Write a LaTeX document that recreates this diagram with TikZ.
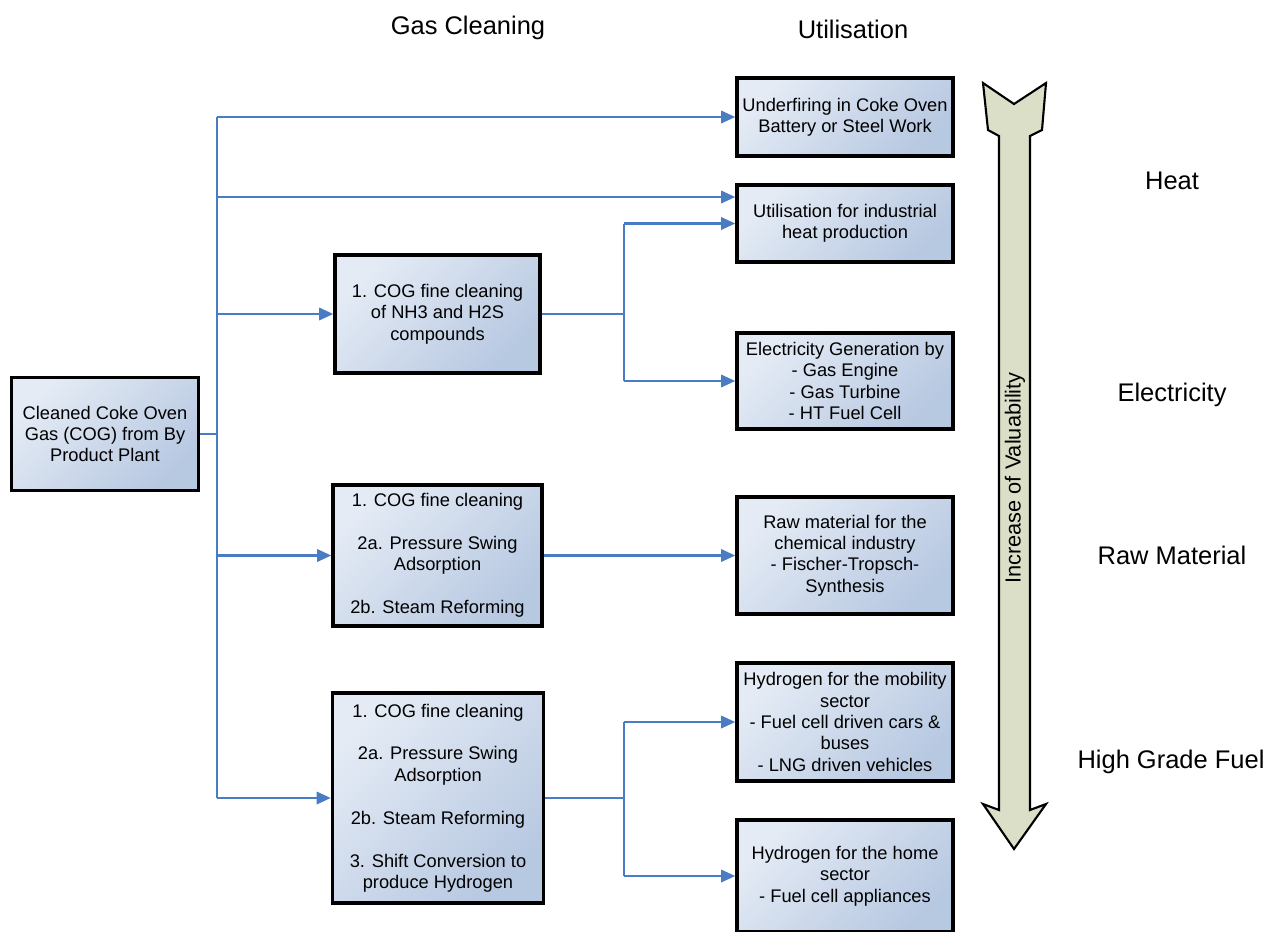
\documentclass[tikz,border=0pt]{standalone}
\usepackage{fontspec}
\setmainfont{Liberation Sans}
\usetikzlibrary{arrows.meta}

\definecolor{boxlight}{HTML}{E4EBF5}
\definecolor{boxdark}{HTML}{B7C8E1}
\definecolor{wire}{HTML}{4A7CC4}
\definecolor{gauge}{HTML}{DCDFC8}

\tikzset{
 box/.style={draw=black, line width=2pt, top color=boxlight, bottom color=boxdark,
  shading angle=45, align=center, inner sep=2pt, font=\fontsize{10.4}{12.2}\selectfont},
 ubox/.style={box, minimum width=4.32cm},
 link/.style={draw=wire, line width=1.3pt},
 feed/.style={link, -{Triangle[length=8pt,width=7pt]}},
 head/.style={font=\fontsize{14.5}{17}\selectfont},
}

\begin{document}
\begin{tikzpicture}[x=0.02cm,y=-0.02cm]

\clip (0,0) rectangle (1267,931);
\def\gap {12.2pt}

% source and cleaning
\node[box, minimum width=3.74cm, minimum height=2.26cm] (src) at (105,434)
 {Cleaned Coke Oven\\Gas (COG) from By\\Product Plant};
\node[box, minimum width=4.1cm, minimum height=2.36cm] (c1) at (437.5,314)
 {1. COG fine cleaning\\of NH3 and H2S\\compounds};
\node[box, minimum width=4.18cm, minimum height=2.82cm] (c2) at (437.5,555.5)
 {1. COG fine cleaning\\[\gap]2a. Pressure Swing\\Adsorption\\[\gap]2b. Steam Reforming};
\node[box, minimum width=4.22cm, minimum height=4.2cm] (c3) at (438,798)
 {1. COG fine cleaning\\[\gap]2a. Pressure Swing\\Adsorption\\[\gap]2b. Steam Reforming\\[\gap]3. Shift Conversion to\\produce Hydrogen};

% utilisation
\node[ubox, minimum height=1.56cm] (u1) at (845,117)
 {Underfiring in Coke Oven\\Battery or Steel Work};
\node[ubox, minimum height=1.54cm] (u2) at (845,223.5)
 {Utilisation for industrial\\heat production};
\node[ubox, minimum height=1.92cm] (u3) at (845,381)
 {Electricity Generation by\\- Gas Engine\\- Gas Turbine\\- HT Fuel Cell};
\node[ubox, minimum height=2.34cm] (u4) at (845,555.5)
 {Raw material for the\\chemical industry\\- Fischer-Tropsch-\\Synthesis};
\node[ubox, minimum height=2.36cm] (u5) at (845,722)
 {Hydrogen for the mobility\\sector\\- Fuel cell driven cars \&\\buses\\- LNG driven vehicles};
\node[ubox, minimum height=2.24cm] (u6) at (845,876)
 {Hydrogen for the home\\sector\\- Fuel cell appliances};

% connectors
\coordinate (trunk) at (217,0);
\coordinate (tap) at (217,197);
\coordinate (s1) at (624,314);
\coordinate (s3) at (624,798);
\draw[link] (src.east) -- (src.east -| trunk);
\draw[link] (trunk |- u1.west) -- (trunk |- c3.west);
\draw[feed] (trunk |- u1.west) -- (u1.west);
\draw[feed] (tap) -- (tap -| u2.west);
\draw[feed] (trunk |- c1.west) -- (c1.west);
\draw[feed] (trunk |- c2.west) -- (c2.west);
\draw[feed] (trunk |- c3.west) -- (c3.west);

\draw[link] (c1.east) -- (s1);
\draw[link] (s1 |- u2.west) -- (s1 |- u3.west);
\draw[feed] (s1 |- u2.west) -- (u2.west);
\draw[feed] (s1 |- u3.west) -- (u3.west);
\draw[feed] (c2.east) -- (u4.west);
\draw[link] (c3.east) -- (s3);
\draw[link] (s3 |- u5.west) -- (s3 |- u6.west);
\draw[feed] (s3 |- u5.west) -- (u5.west);
\draw[feed] (s3 |- u6.west) -- (u6.west);

% valuability scale
\draw[fill=gauge, line width=1.2pt, line join=miter]
 (983,83) -- (1014,104) -- (1046,83) -- (1042,130) -- (1030,136)
 -- (1030,810) -- (1046,804) -- (1014,849) -- (983,804) -- (999,810)
 -- (999,136) -- (988,130) -- cycle;
\node[rotate=90, font=\fontsize{12.4}{14}\selectfont] (val) at (1015,478) {Increase of Valuability};

% headings
\node[head] (hclean) at (468,28) {Gas Cleaning};
\node[head] (huse) at (853,29) {Utilisation};
\node[head] (heat) at (1172,181) {Heat};
\node[head] (elec) at (1172,395) {Electricity};
\node[head] (raw) at (1172,555) {Raw Material};
\node[head] (fuel) at (1171,762) {High Grade Fuel};

\end{tikzpicture}
\end{document}
